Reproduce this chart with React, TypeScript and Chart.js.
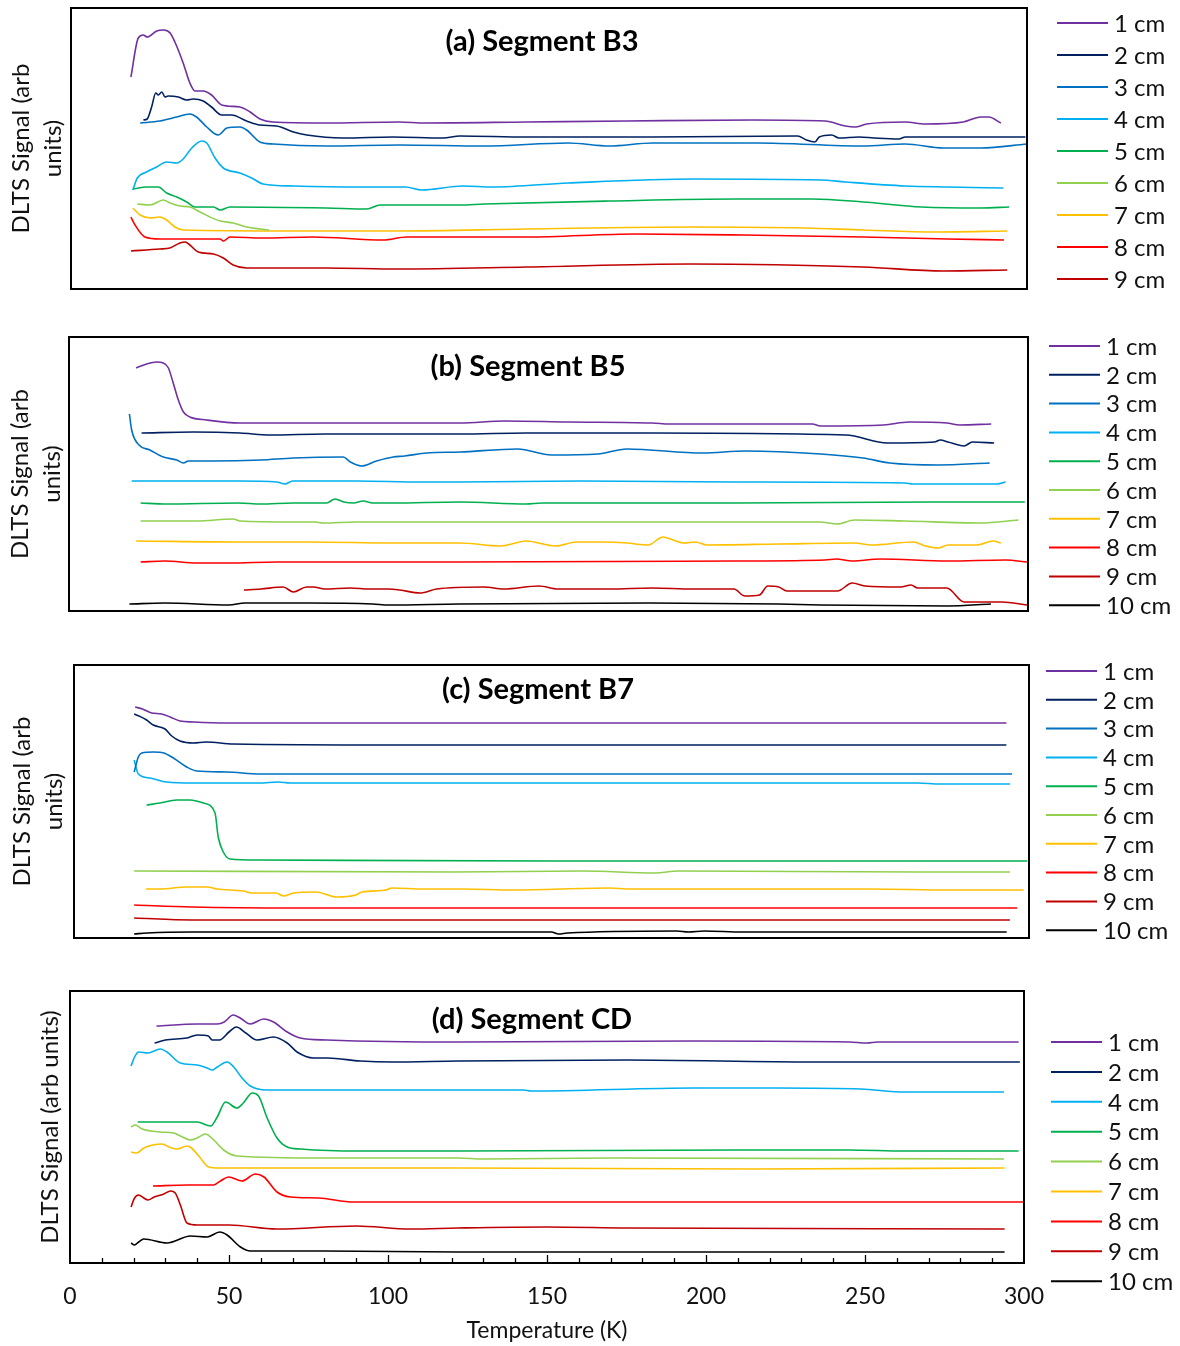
import React, { useEffect, useRef } from 'react';
import { Chart, registerables } from 'chart.js';

Chart.register(...registerables);
Chart.defaults.font.family = 'Lato, "Open Sans", sans-serif';

// ---------- DATA: [temperature (K), DLTS signal (arb. units)] ----------
const a1 = [[18.8,212],[21.1,251],[22.7,254],[23.9,252],[26.9,258],[29,259],[31.1,256],[32.6,247],[35.2,226],[37.3,206],[38.9,198],[41.5,198],[44.1,194],[47.3,184],[53,182],[56.2,177],[59.3,170],[63.4,167],[80,166],[103,167],[111,166],[143,167],[174.5,168],[214,169],[236.6,168],[243,163],[246,162],[249.7,165],[261.7,167],[268,165],[280,167],[285.5,172],[288,172],[291.8,166]];
const a2 = [[22.7,169],[23.9,170],[25.3,182],[26.6,196],[27.4,194],[28.5,197],[29.5,192],[30.5,193],[33.7,192],[36.3,189],[38.4,190],[41.5,188],[44.1,182],[47.3,174],[50.4,174],[55.1,168],[59.3,164],[64.5,163],[69.8,157],[74,154],[85.4,151],[101,152],[116.8,151],[122,153],[143,152],[182.5,152],[228,153],[230.8,149],[233.4,147],[234.8,152],[238.7,154],[241,151],[247.3,152],[252,151],[259.8,150],[261.8,152],[299.5,152]];
const a3 = [[21.7,166],[27.9,168],[33.2,172],[37.3,175],[39.4,172],[42.6,162],[46.2,154],[48.9,161],[53,162],[55.1,159],[59.3,147],[63.5,145],[80,143],[103,144],[129.6,143],[156,146],[169,143],[182.5,146],[215.5,146],[248.6,143],[261.8,145],[273.7,141],[285.6,141],[300,145]];
const a4 = [[19.4,99],[20.8,111],[23.7,117],[26.9,122],[30,127],[33.2,126],[35.2,130],[37.9,141],[41,148],[42.6,146],[45.2,131],[47.8,121],[53,116],[56.7,111],[60.3,105],[69.8,103],[90.7,102],[105,102],[110,99],[123,103],[132.3,102],[156,106],[195.7,110],[235.4,109],[243,107],[261.8,103],[275,102],[292.6,101]];
const a5 = [[19.4,100],[23.7,102],[27.4,102],[30,96],[33.2,92],[36.3,87],[38.9,82],[44.7,82],[46.8,79],[49.9,82],[80,81],[92.8,80],[97,84],[122,84],[129.6,85],[169,88],[209,90],[232.7,90],[248.6,87],[267,82],[285.6,81],[294.4,82]];
const a6 = [[20.8,85],[24.8,84],[29,89],[31.1,86],[34.2,83],[37.3,82],[40.5,77],[43.6,72],[46.8,68],[50.9,66],[55.1,62],[59.3,60],[62.2,59]];
const a7 = [[19.4,81],[21.7,74],[24.8,71],[27.9,72],[30,69],[32.6,62],[35.2,59],[70,58],[103,58],[143,60],[195.7,62],[230.3,61],[248.6,59],[271,57],[293.8,58]];
const a8 = [[18.8,72],[20.1,64],[23.2,52],[27.9,50],[46.8,50],[47.8,48],[49.9,52],[60,51],[76,52],[98,49],[105.3,52],[122,52],[143,52],[177.3,55],[211,54],[248.6,52],[275,50],[292.8,49]];
const a9 = [[18.8,38],[27.9,40],[31,41],[34.2,46],[35.8,47],[37.3,44],[39.9,37],[44.7,35],[47.8,31],[50.9,24],[55.1,21],[80,21],[103,20],[143,22],[194.3,25],[248.6,22],[273.7,18],[293.8,19]];

const b1 = [[21,243],[24.3,247],[27.4,249],[29.5,248],[31.1,243],[32.6,228],[34.2,211],[35.8,199],[37.8,194],[43.1,191],[53.5,188],[103.5,188],[122.3,188],[136.4,190],[156.2,189],[182.5,188],[187.8,187],[232.6,187],[235,185],[254.9,186],[262.7,189],[274.6,188],[278.6,186],[288.5,187]];
const b2 = [[22.7,178],[38.9,179],[53.5,178],[62.9,176],[80,177],[122.3,177],[143,178],[182.5,178],[243,176],[256,168],[270.7,169],[272.6,171],[275,169],[280,165],[282.6,169],[289.4,168]];
const b3 = [[18.9,197],[19.6,181],[21.9,166],[25.3,161],[29.5,154],[33.7,151],[35.8,148],[37.3,150],[45,150],[60,151],[70.2,153],[85.8,154],[88,149],[91.5,145],[96.2,150],[101.4,154],[105,155],[111.9,158],[122.3,159],[140.4,162],[150.9,156],[165.4,157],[174.5,162],[198.3,158],[211.4,160],[235.2,157],[248.4,153],[256.8,148],[272,146],[288,148]];
const b4 = [[19.6,130],[30,130],[53,130],[65,129],[67.6,127],[70,130],[74.3,130],[90,130],[110,129],[122.3,129],[160,130],[208,129],[261.5,128],[264,127],[290.4,127],[293,129]];
const b5 = [[22.4,108],[30,107],[53,108],[60,107],[70,108],[80.6,108],[83.2,112],[86,109],[89,108],[92,110],[95,108],[101,108],[122.3,109],[143,107],[148,108],[208,108],[270,109],[299,109]];
const b6 = [[22.4,90],[40,90],[51.4,92],[53.5,90],[70.2,89],[77,89],[79.5,88],[90,89],[122.3,89],[235,89],[240.4,87],[245.7,91],[261.5,90],[285.2,88],[297,91]];
const b7 = [[21,70],[53.5,69],[75,69],[102,68],[122.3,68],[135.1,65],[143,70],[152.2,65],[158.8,69],[167,69],[174.5,68],[181.2,66],[185.8,74],[189,71],[192.4,68],[196,69],[199.6,66],[222,67],[245.7,68],[251,66],[264.2,69],[268,65],[272,63],[275,66],[283.9,66],[289.1,70],[291.5,68]];
const b8 = [[22.4,49],[30,50],[40,48],[50,48],[65,49],[80,49],[122.3,49],[208,50],[236.5,51],[240,52],[245,50],[253.7,52],[275,50],[293,51],[299.7,49]];
const b9 = [[54.7,21],[60,22],[67,24],[70.2,19],[74.3,24],[76.5,24],[80,22],[88,23],[94,22],[100,22],[103.5,21],[109.8,18],[115,22],[129.8,24],[136,22],[147,25],[153,22],[169,22],[182.5,23],[195,22],[208,22],[211.4,15],[216,16],[218.6,25],[222,24],[224.6,20],[240.4,20],[245,28],[249,25],[260.2,24],[263.4,26],[265.5,23],[274.6,23],[280,9],[291.8,9],[299.7,6]];
const b10 = [[18.9,7],[30,8],[50,6],[55,8],[75,8],[95,7],[100,6],[122,7],[182,8],[222,7],[235,6],[275,5],[288.4,7]];

const c1 = [[19.2,231],[21.5,229],[24.4,225],[27.5,224],[30.2,221],[33.3,217],[37.5,216],[48,215],[100,215],[200,215],[292.9,215]];
const c2 = [[18.9,224],[20.4,222],[22.8,218],[24.9,213],[28.6,209],[30.7,202],[33.3,197],[37.5,195],[41.5,196],[50,194],[100,193],[200,193],[292.9,193]];
const c3 = [[18.9,166],[20.2,181],[21.3,185],[24.9,186],[28.2,185],[31.2,180],[35.4,171],[38.5,167],[48,166],[58.4,164],[150,164],[294.7,164]];
const c4 = [[18.9,178],[20.2,164],[23.9,160],[29.1,156],[37.5,155],[58.4,155],[64,156],[68,155],[120,155],[200,155],[265,155],[272,154],[294,154]];
const c5 = [[22.8,133],[27,135],[32.3,138],[36.5,138],[40.6,135],[44.3,125],[45.3,101],[46.9,86],[49,79],[58,78],[150,77],[299.5,77]];
const c6 = [[18.9,67],[120,66],[160,67],[182.2,65],[190,67],[265,66],[294,66]];
const c7 = [[22.6,49],[27,49],[35.4,51],[42,51],[44.8,49],[53.2,47],[55.8,45],[63.5,45],[65.8,42],[69,45],[76,46],[82.5,41],[88.5,43],[90.5,46],[98,48],[99.8,50],[110,49],[122,49],[138,48],[168,50],[175,49],[210,49],[250,49],[275,48],[298.3,48]];
const c8 = [[18.9,33],[37,31],[70,30],[122,30],[296.3,30]];
const c9 = [[18.9,20],[37,18],[294,18]];
const c10 = [[18.9,4],[23,5],[37,6],[150,6],[152.2,4],[155,5],[189.4,7],[193,6],[198,7],[210,6],[293,6]];

const d1 = [[27.2,237],[40,239],[46.3,239],[48.5,241],[51.3,248],[53.5,245],[56.7,239],[60.9,244],[64,241],[68.3,231],[72.4,225],[80.8,223],[122.7,221],[196.4,222],[245,221],[250.6,220],[254,221],[298.3,221]];
const d2 = [[26.6,220],[30,223],[36.8,225],[40,228],[43.5,227],[44.7,223],[47,223],[50,231],[52.3,236],[55.3,230],[58.8,223],[64,226],[68.3,220],[71.4,211],[76.6,205],[81,205],[91.3,202],[101,201],[122,202],[175.2,203],[234,201],[298.7,201]];
const d4 = [[19.2,197],[20.3,206],[21.6,211],[24.5,210],[28.4,214],[30.5,211],[34.7,200],[40,198],[43.1,195],[44.7,193],[46.3,196],[49.4,201],[51.5,196],[54.1,185],[56.7,177],[62,173],[122,173],[142.6,173],[145,172],[196.4,175],[222,175],[248.6,174],[262.6,171],[293.7,171]];
const d5 = [[21.3,141],[30,141],[40,141],[44.2,137],[46.3,146],[48.9,161],[52.5,155],[54.5,160],[57.3,170],[59.3,167],[62,145],[65.1,125],[68.3,116],[72.5,114],[91.3,112],[122,112],[209.7,113],[245,113],[262.6,112],[298.3,112]];
const d6 = [[19.2,136],[20.5,138],[22.7,134],[28.4,131],[32.6,130],[34.7,127],[37.9,123],[40,125],[42.6,129],[45.2,123],[48.3,113],[52.5,107],[80,105],[122,105],[130,104],[170,105],[293.7,104]];
const d7 = [[19.2,111],[21,110],[23.2,115],[29,119],[31.2,116],[33.7,114],[36.8,117],[38.2,115],[41,105],[43.6,96],[47,95],[122,95],[215,94],[293.9,95]];
const d8 = [[26.1,77],[37,78],[45.2,78],[47.3,82],[49.9,86],[54.1,82],[58.3,89],[61,86],[65.1,71],[69.3,66],[78,65],[89.2,61],[122,61],[200,61],[300,61]];
const d9 = [[19.2,56],[20.3,65],[21.6,68],[23.2,65],[24.5,63],[26.5,66],[29.5,69],[31.6,72],[33.1,70],[34.7,58],[36.8,40],[40,38],[50,38],[65,34],[90,37],[107,34],[122,35],[150,36],[175,35],[293.9,34]];
const d10 = [[19.2,20],[20.3,18],[21.6,21],[23.2,24],[30.5,20],[37.9,27],[43.1,26],[47.1,31],[49.4,28],[53.6,16],[56.7,12],[80,12],[122,11],[293.9,11]];

const labelsA = ['1 cm', '2 cm', '3 cm', '4 cm', '5 cm', '6 cm', '7 cm', '8 cm', '9 cm'];
const labelsBC = ['1 cm', '2 cm', '3 cm', '4 cm', '5 cm', '6 cm', '7 cm', '8 cm', '9 cm', '10 cm'];
const labelsD = ['1 cm', '2 cm', '4 cm', '5 cm', '6 cm', '7 cm', '8 cm', '9 cm', '10 cm'];
const xTicks = [0, 50, 100, 150, 200, 250, 300];

// ---------- STYLE ----------
const COLORS: Record<string, string> = {
  '1 cm': '#7030A0', '2 cm': '#002060', '3 cm': '#0070C0', '4 cm': '#00B0F0', '5 cm': '#00B050',
  '6 cm': '#92D050', '7 cm': '#FFC000', '8 cm': '#FF0000', '9 cm': '#C00000', '10 cm': '#000000',
};

type PanelCfg = {
  top: number; height: number; title: string; titleX: number; titleY: number;
  series: number[][][]; labels: string[]; yMax: number;
  pad: { left: number; right: number; top: number; bottom: number };
  yAxisW: number; yTitle: string | string[]; showX: boolean;
  leg: { x1: number; x2: number; xt: number; y0: number; dy: number };
};

const PANELS: PanelCfg[] = [
  {
    top: 0, height: 310, title: '(a) Segment B3', titleX: 542, titleY: 42,
    series: [a1, a2, a3, a4, a5, a6, a7, a8, a9], labels: labelsA, yMax: 281,
    pad: { left: 5, right: 153, top: 8, bottom: 21 }, yAxisW: 66,
    yTitle: ['DLTS Signal (arb', 'units)'], showX: false,
    leg: { x1: 1057, x2: 1108, xt: 1114, y0: 23, dy: 32 },
  },
  {
    top: 310, height: 330, title: '(b) Segment B5', titleX: 528, titleY: 367,
    series: [b1, b2, b3, b4, b5, b6, b7, b8, b9, b10], labels: labelsBC, yMax: 274,
    pad: { left: 4, right: 152, top: 27, bottom: 29 }, yAxisW: 65,
    yTitle: ['DLTS Signal (arb', 'units)'], showX: false,
    leg: { x1: 1049, x2: 1100, xt: 1106, y0: 346, dy: 28.8 },
  },
  {
    top: 640, height: 325, title: '(c) Segment B7', titleX: 538, titleY: 690,
    series: [c1, c2, c3, c4, c5, c6, c7, c8, c9, c10], labels: labelsBC, yMax: 273,
    pad: { left: 6, right: 151, top: 25, bottom: 27 }, yAxisW: 68,
    yTitle: ['DLTS Signal (arb', 'units)'], showX: false,
    leg: { x1: 1046, x2: 1097, xt: 1103, y0: 671, dy: 28.8 },
  },
  {
    top: 965, height: 381, title: '(d) Segment CD', titleX: 532, titleY: 1020,
    series: [d1, d2, d4, d5, d6, d7, d8, d9, d10], labels: labelsD, yMax: 272,
    pad: { left: 34, right: 156, top: 26, bottom: 0 }, yAxisW: 36,
    yTitle: 'DLTS Signal (arb units)', showX: true,
    leg: { x1: 1051, x2: 1102, xt: 1108, y0: 1042, dy: 29.9 },
  },
];

const TEXT = '#111111';

function Panel({ cfg }: { cfg: PanelCfg }) {
  const ref = useRef<HTMLCanvasElement>(null);
  useEffect(() => {
    if (!ref.current) return;
    const decor = {
      id: 'decor',
      afterDatasetsDraw(chart: any) {
        const { ctx, chartArea } = chart;
        const { left, top, right, bottom } = chartArea;
        ctx.save();
        // frame
        ctx.strokeStyle = '#000';
        ctx.lineWidth = 2;
        ctx.strokeRect(left, top, right - left, bottom - top);
        // inside minor/major ticks on the bottom axis
        if (cfg.showX) {
          const xs = chart.scales.x;
          ctx.lineWidth = 1.3;
          for (let t = 10; t < 300; t += 10) {
            const px = Math.round(xs.getPixelForValue(t)) + 0.5;
            const len = t % 50 === 0 ? 8 : 5;
            ctx.beginPath();
            ctx.moveTo(px, bottom);
            ctx.lineTo(px, bottom - len);
            ctx.stroke();
          }
        }
        // panel title
        ctx.fillStyle = '#000';
        ctx.font = 'bold 29px Lato, "Open Sans", sans-serif';
        ctx.textAlign = 'center';
        ctx.textBaseline = 'middle';
        ctx.fillText(cfg.title, cfg.titleX, cfg.titleY - cfg.top);
        // legend
        ctx.font = '24px Lato, "Open Sans", sans-serif';
        ctx.textAlign = 'left';
        chart.data.datasets.forEach((ds: any, i: number) => {
          const y = cfg.leg.y0 + i * cfg.leg.dy - cfg.top;
          ctx.strokeStyle = ds.borderColor;
          ctx.lineWidth = 2;
          ctx.beginPath();
          ctx.moveTo(cfg.leg.x1, y);
          ctx.lineTo(cfg.leg.x2, y);
          ctx.stroke();
          ctx.fillStyle = TEXT;
          ctx.fillText(ds.label, cfg.leg.xt, y + 1);
        });
        ctx.restore();
      },
    };

    const chart = new Chart(ref.current, {
      type: 'line',
      data: {
        datasets: cfg.series.map((s, i) => ({
          label: cfg.labels[i],
          data: s.map(([x, y]) => ({ x, y })),
          borderColor: COLORS[cfg.labels[i]],
          backgroundColor: COLORS[cfg.labels[i]],
          borderWidth: 1.6,
          pointRadius: 0,
          cubicInterpolationMode: 'monotone',
          fill: false,
        })),
      },
      options: {
        responsive: false,
        animation: false,
        devicePixelRatio: 1,
        layout: { padding: cfg.pad },
        plugins: { legend: { display: false }, tooltip: { enabled: false }, title: { display: false } },
        scales: {
          x: {
            type: 'linear',
            min: 0,
            max: 300,
            display: cfg.showX,
            afterBuildTicks: (s: any) => { s.ticks = xTicks.map((v) => ({ value: v })); },
            ticks: { font: { size: 23 }, color: TEXT, padding: 20, maxRotation: 0, autoSkip: false },
            grid: { display: false, drawTicks: false },
            border: { display: false },
            title: { display: true, text: 'Temperature (K)', font: { size: 23 }, color: TEXT, padding: { top: 0, bottom: 2 } },
            afterFit: (s: any) => { if (cfg.showX) s.height = 83; },
          },
          y: {
            type: 'linear',
            min: 0,
            max: cfg.yMax,
            display: true,
            ticks: { display: false },
            grid: { display: false, drawTicks: false },
            border: { display: false },
            title: { display: true, text: cfg.yTitle as any, font: { size: 24, lineHeight: 32 / 24 }, color: TEXT, padding: { top: 0, bottom: 0 } },
            afterFit: (s: any) => { s.width = cfg.yAxisW; },
          },
        },
      } as any,
      plugins: [decor],
    });
    return () => chart.destroy();
  }, []);
  return (
    <canvas
      ref={ref}
      width={1180}
      height={cfg.height}
      style={{ position: 'absolute', left: 0, top: cfg.top, width: 1180, height: cfg.height }}
    />
  );
}

export default function App() {
  return (
    <div style={{ position: 'absolute', left: 0, top: 0, width: 1180, height: 1346, background: '#fff', overflow: 'hidden' }}>
      {PANELS.map((p, i) => (
        <Panel key={i} cfg={p} />
      ))}
    </div>
  );
}
